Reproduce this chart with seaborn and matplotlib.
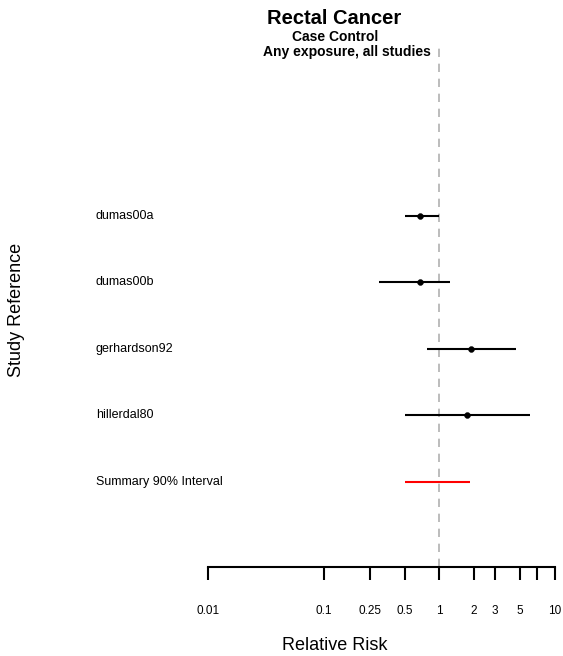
import numpy as np
import pandas as pd
import matplotlib
matplotlib.use("Agg")
import matplotlib.pyplot as plt
import matplotlib.transforms as mtransforms
import seaborn as sns

# study estimates (relative risk, 95% CI)
studies = ["dumas00a", "dumas00b", "gerhardson92", "hillerdal80"]
rr = [0.685, 0.685, 1.89, 1.73]
ci_low = [0.50, 0.30, 0.78, 0.50]
ci_high = [1.0, 1.23, 4.57, 6.12]

summary_label = "Summary 90% Interval"
summary_low = 0.50
summary_high = 1.83

x_ticks = [0.01, 0.1, 0.25, 0.5, 1, 2, 3, 5, 7, 10]
x_tick_labels = ["0.01", "0.1", "0.25", "0.5", "1", "2", "3", "5", "", "10"]


def main():
    sns.set_style("white")
    plt.rcParams["font.family"] = ["Liberation Sans", "DejaVu Sans"]
    plt.rcParams["text.color"] = "black"
    plt.rcParams["xtick.color"] = "black"
    plt.rcParams["xtick.labelcolor"] = "black"

    fig = plt.figure(figsize=(5.63, 6.56), dpi=100)
    ax = fig.add_axes([208 / 563, 1 - 567 / 656, 347 / 563, 520 / 656])

    df = pd.DataFrame({"study": studies, "rr": rr, "lo": ci_low, "hi": ci_high})
    df["row"] = np.arange(len(df))

    # reference line at RR = 1
    ax.axvline(1, color="#b0b0b0", lw=1.2, ls=(0, (5, 4)), zorder=1)

    # confidence intervals and point estimates
    ax.hlines(df["row"], df["lo"], df["hi"], color="black", lw=1.5, zorder=2)
    sns.scatterplot(data=df, x="rr", y="row", ax=ax, color="black", s=18,
                    edgecolor="black", zorder=3, legend=False)

    # summary interval
    srow = len(df)
    ax.hlines(srow, summary_low, summary_high, color="red", lw=1.5, zorder=2)

    ax.set_xscale("log")
    ax.set_xlim(0.01, 10)
    ax.set_ylim(5.28, -2.54)
    ax.set_xticks(x_ticks)
    ax.set_xticklabels(x_tick_labels, fontsize=8.5)
    ax.minorticks_off()
    ax.tick_params(axis="x", direction="out", length=9, width=1.5, pad=18,
                   color="black", labelcolor="black", bottom=True)
    ax.set_yticks([])
    ax.set_xlabel("")
    ax.set_ylabel("")
    for side in ["top", "right", "left"]:
        ax.spines[side].set_visible(False)
    ax.spines["bottom"].set_linewidth(1.5)
    ax.spines["bottom"].set_color("black")
    ax.patch.set_alpha(0)

    # study labels on the left
    trans = mtransforms.blended_transform_factory(fig.transFigure, ax.transData)
    for i, name in enumerate(studies):
        ax.text(96 / 563, i, name, transform=trans, fontsize=9,
                ha="left", va="center", color="black")
    ax.text(96 / 563, srow, summary_label, transform=trans, fontsize=9,
            ha="left", va="center", color="black")

    # titles
    fig.text(334 / 563, 1 - 18 / 656, "Rectal Cancer", fontsize=14.5,
             fontweight="bold", ha="center", va="center", color="black")
    fig.text(335 / 563, 1 - 37 / 656, "Case Control", fontsize=10,
             fontweight="bold", ha="center", va="center", color="black")
    fig.text(347 / 563, 1 - 52 / 656, "Any exposure, all studies", fontsize=10,
             fontweight="bold", ha="center", va="center", color="black")

    fig.text(335 / 563, 1 - 645 / 656, "Relative Risk", fontsize=13,
             ha="center", va="center", color="black")
    fig.text(17 / 563, 1 - 310 / 656, "Study Reference", fontsize=13,
             rotation=90, ha="center", va="center", color="black")

    fig.savefig("out.png", dpi=100)
    plt.close(fig)


if __name__ == "__main__":
    main()
